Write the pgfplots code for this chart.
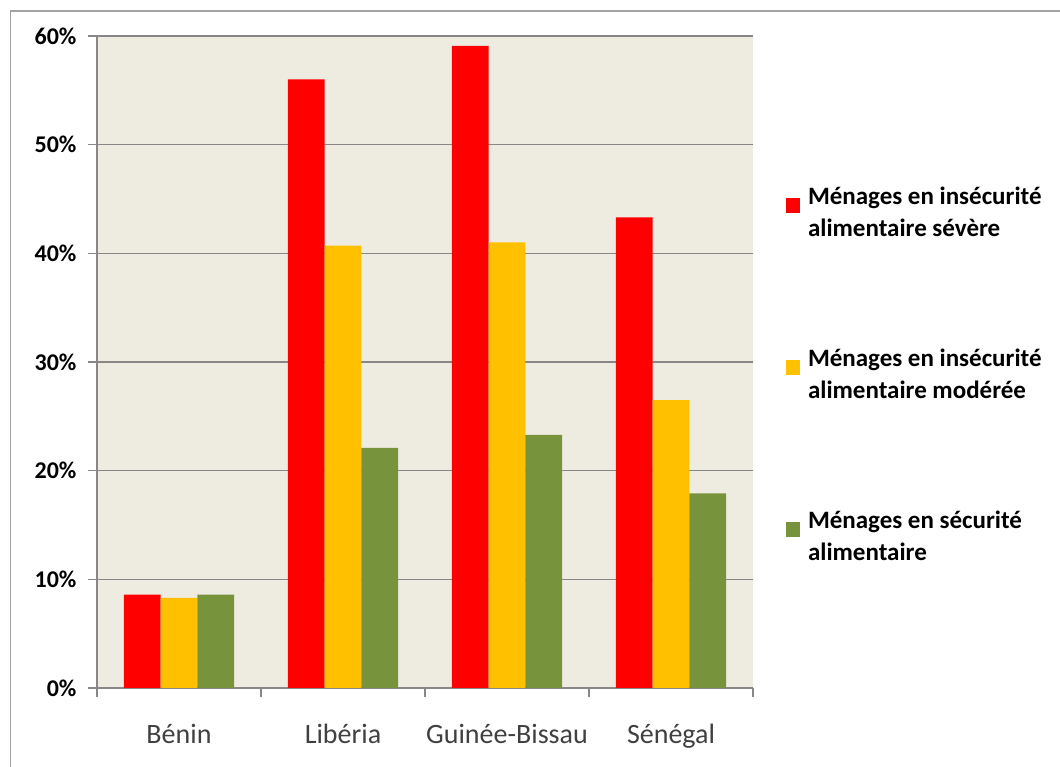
\documentclass[border=0pt]{standalone}
\usepackage{pgfplots}
\pgfplotsset{compat=1.18}
\usepackage{fontspec}
\setmainfont{Carlito}

\definecolor{plotbg}{HTML}{EEECE1}
\definecolor{gridgray}{HTML}{878787}
\definecolor{framegray}{HTML}{A3A3A3}
\definecolor{sevred}{HTML}{FF0000}
\definecolor{modyellow}{HTML}{FFC000}
\definecolor{secgreen}{HTML}{77933C}
\definecolor{labelgray}{HTML}{404040}

\begin{document}
\begin{tikzpicture}[x=1pt,y=1pt]
\useasboundingbox (0,0) rectangle (1060,767);
\fill[white] (0,0) rectangle (1060,767);
\draw[framegray, line width=1.6pt] (10.5,0) -- (10.5,756) -- (1060,756);
\begin{axis}[
  at={(97pt,79pt)}, anchor=south west,
  scale only axis, width=656pt, height=652pt,
  xmin=-0.5, xmax=3.5, ymin=0, ymax=60,
  ybar=0pt, bar width=0.224,
  axis background/.style={fill=plotbg},
  axis x line=bottom, axis y line=left,
  axis line style={-, draw=gridgray, line width=1.3pt},
  ytick={0,10,...,60},
  yticklabel={\pgfmathprintnumber{\tick}\%},
  /pgf/number format/assume math mode=true,
  yticklabel style={font=\bfseries\fontsize{24}{28}\selectfont, xshift=-8pt},
  ymajorgrids, grid style={draw=gridgray, line width=1.3pt},
  xtick={0,1,2,3},
  xticklabels={Bénin, Libéria, Guinée-Bissau, Sénégal},
  xticklabel style={font=\fontsize{28}{32}\selectfont, text=labelgray, yshift=-24pt},
  x tick style={draw=none},
  minor xtick={-0.5,0.5,1.5,2.5,3.5},
  minor x tick style={draw=gridgray, line width=1.3pt},
  y tick style={draw=gridgray, line width=1.3pt},
  tick align=outside,
  major tick length=9pt, minor tick length=9pt,
  legend cell align=left,
  legend image code/.code={\fill[#1, draw=none] (0pt,-1pt) rectangle (14pt,14pt);},
  legend style={
    at={(1.05,0.769)}, anchor=north west,
    draw=none, fill=none, inner sep=0pt,
    row sep=111pt, column sep=8pt,
    nodes={align=left, inner sep=0pt,
           font=\bfseries\fontsize{25}{32}\selectfont},
  },
]
\addplot[fill=sevred, draw=none] coordinates {(0,8.6) (1,56.0) (2,59.1) (3,43.3)};
\addlegendentry{Ménages en insécurité\\alimentaire sévère}
\addplot[fill=modyellow, draw=none] coordinates {(0,8.3) (1,40.7) (2,41.0) (3,26.5)};
\addlegendentry{Ménages en insécurité\\alimentaire modérée}
\addplot[fill=secgreen, draw=none] coordinates {(0,8.6) (1,22.1) (2,23.3) (3,17.9)};
\addlegendentry{Ménages en sécurité\\alimentaire}
\end{axis}
\end{tikzpicture}
\end{document}
